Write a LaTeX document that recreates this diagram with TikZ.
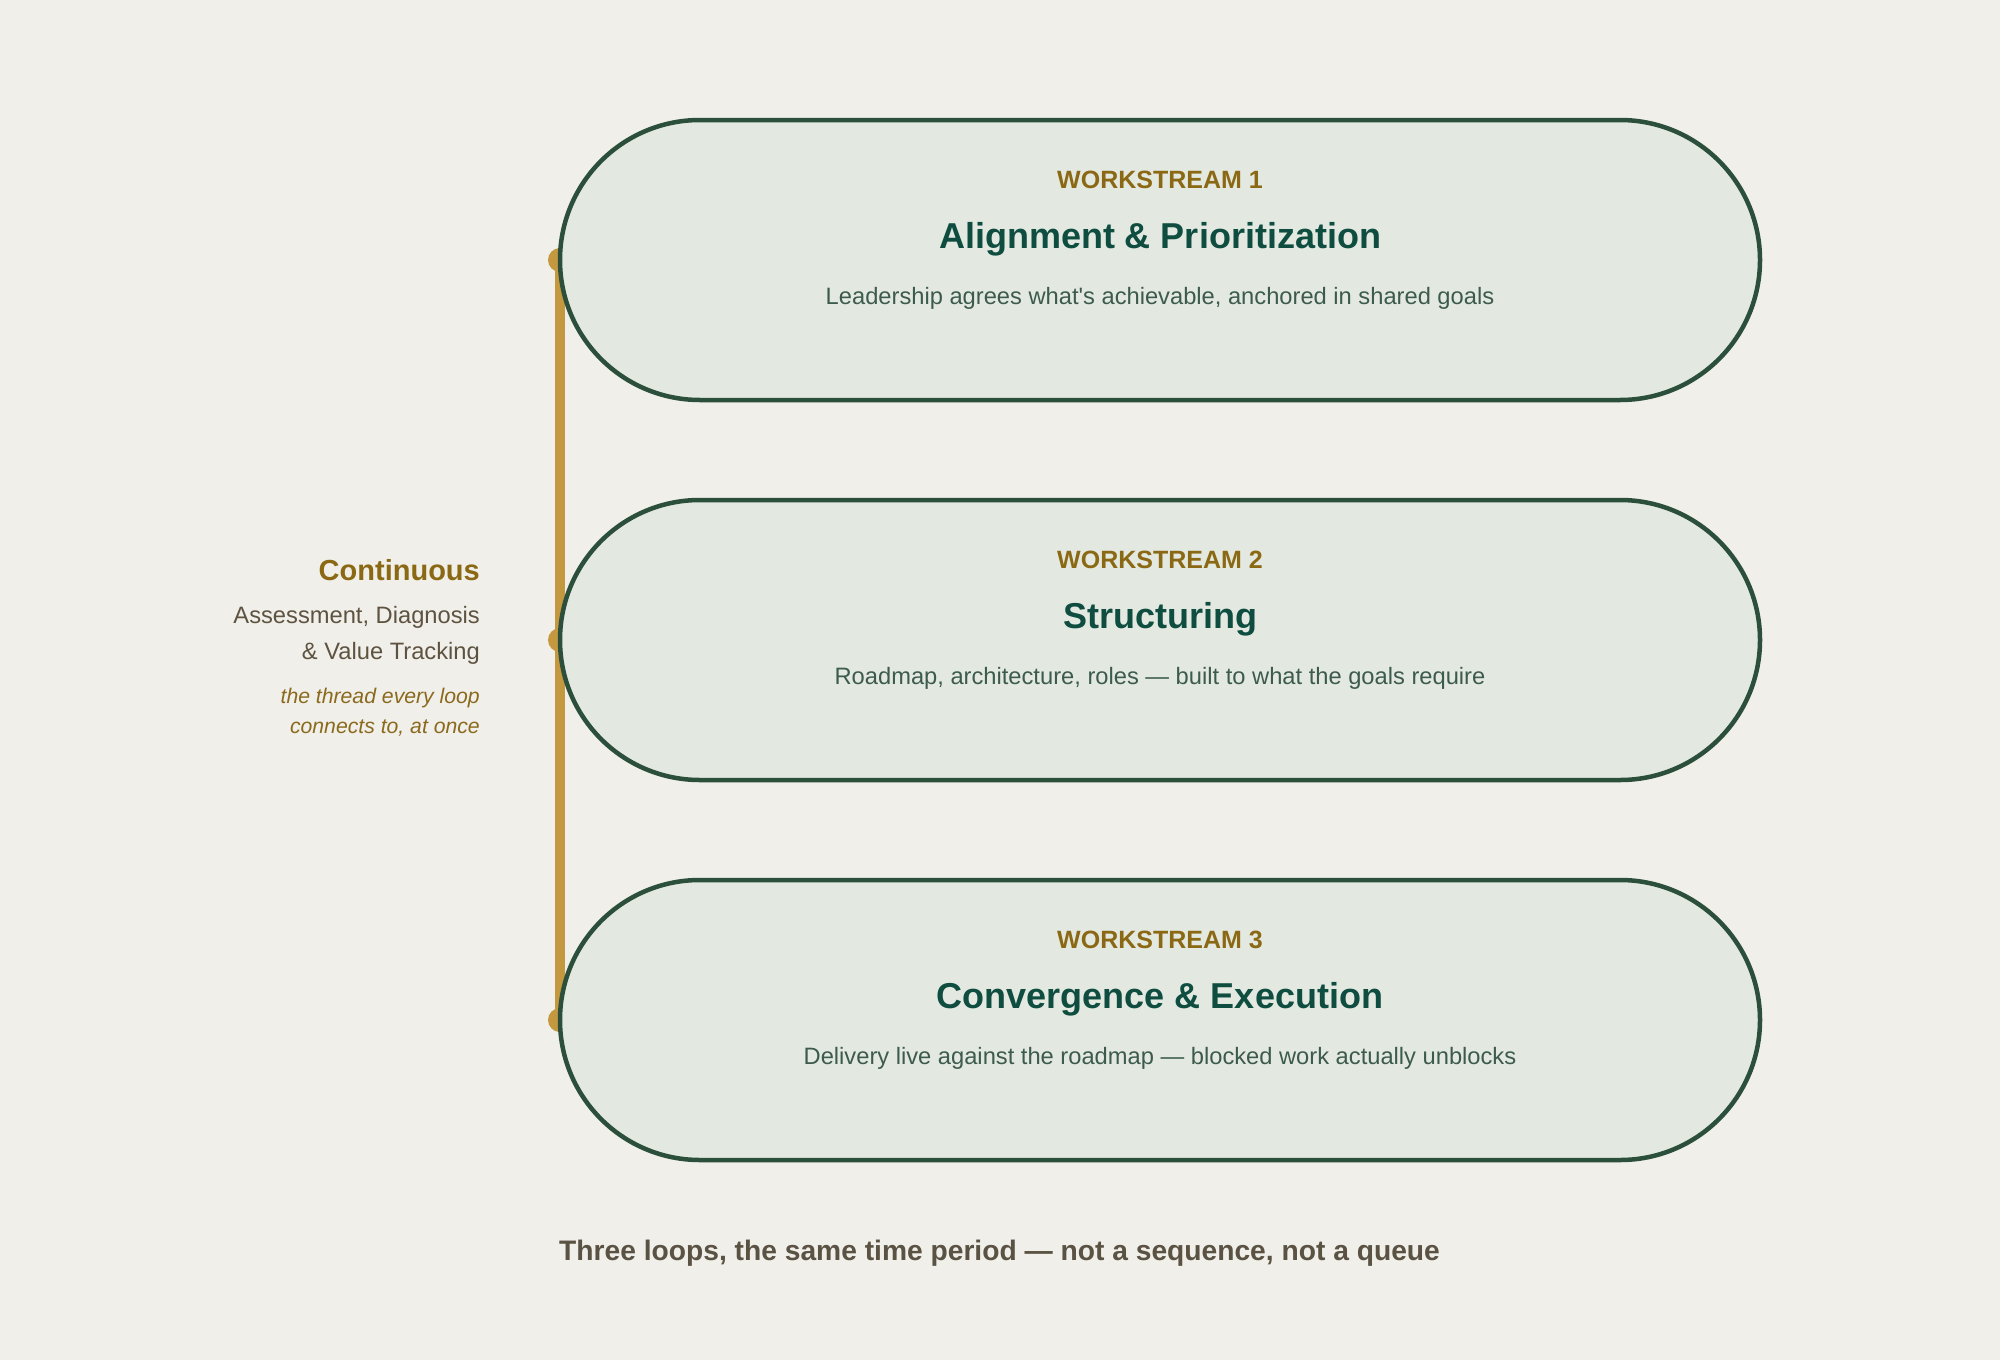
\documentclass[tikz,border=0pt]{standalone}
\usepackage{fontspec}
\setmainfont{Liberation Sans}[Ligatures=TeXOff]
\usetikzlibrary{shapes.misc}
\definecolor{bgc}{HTML}{F0EFEA}
\definecolor{boxfill}{HTML}{E3E9E1}
\definecolor{boxline}{HTML}{2B4F3B}
\definecolor{goldline}{HTML}{C4983F}
\definecolor{wscol}{HTML}{8B6914}
\definecolor{titlecol}{HTML}{0E4D3F}
\definecolor{desccol}{HTML}{3D5B4C}
\definecolor{leftcol}{HTML}{5E5340}
\definecolor{italcol}{HTML}{8B6A1E}
\definecolor{capcol}{HTML}{5A5242}
\tikzset{
  loopbox/.style={rounded rectangle, draw=boxline, fill=boxfill, line width=4.5pt,
    minimum width=1200pt, minimum height=280pt, inner sep=0pt},
  wslabel/.style={anchor=base, text=wscol, font=\fontsize{25}{30}\selectfont\bfseries, inner sep=0pt},
  wstitle/.style={anchor=base, text=titlecol, font=\fontsize{36}{42}\selectfont\bfseries, inner sep=0pt},
  wsdesc/.style={anchor=base, text=desccol, font=\fontsize{23.7}{28}\selectfont, inner sep=0pt},
  leftlabel/.style={anchor=base east, inner sep=0pt},
  thread/.style={draw=goldline, line width=10pt},
  threaddot/.style={circle, fill=goldline, minimum size=24pt, inner sep=0pt},
}
\begin{document}
\begin{tikzpicture}[x=1pt,y=-1pt]
\fill[bgc] (0,0) rectangle (2000,1360);
\useasboundingbox (0,0) rectangle (2000,1360);
% thread
\node[threaddot] (d1) at (560,260) {};
\node[threaddot] (d2) at (560,640) {};
\node[threaddot] (d3) at (560,1020) {};
\draw[thread] (d1.center) -- (d3.center);
% boxes
\node[loopbox] (b1) at (1160,260) {};
\node[loopbox] (b2) at (1160,640) {};
\node[loopbox] (b3) at (1160,1020) {};
% box 1
\node[wslabel] (w1) at (1160,188) {WORKSTREAM 1};
\node[wstitle] (t1) at (1160,248) {Alignment \& Prioritization};
\node[wsdesc] (s1) at (1160,304) {Leadership agrees what's achievable, anchored in shared goals};
% box 2
\node[wslabel] (w2) at (1160,568) {WORKSTREAM 2};
\node[wstitle] (t2) at (1160,628) {Structuring};
\node[wsdesc] (s2) at (1160,684) {Roadmap, architecture, roles — built to what the goals require};
% box 3
\node[wslabel] (w3) at (1160,948) {WORKSTREAM 3};
\node[wstitle] (t3) at (1160,1008) {Convergence \& Execution};
\node[wsdesc] (s3) at (1160,1064) {Delivery live against the roadmap — blocked work actually unblocks};
% left labels
\node[leftlabel, text=wscol, font=\fontsize{29}{34}\selectfont\bfseries] (c0) at (480,580) {Continuous};
\node[leftlabel, text=leftcol, font=\fontsize{23.7}{28}\selectfont] (c1) at (480,623) {Assessment, Diagnosis};
\node[leftlabel, text=leftcol, font=\fontsize{23.7}{28}\selectfont] (c2) at (480,659) {\& Value Tracking};
\node[leftlabel, text=italcol, font=\fontsize{21.2}{26}\selectfont\itshape] (c3) at (480,703) {the thread every loop};
\node[leftlabel, text=italcol, font=\fontsize{21.2}{26}\selectfont\itshape] (c4) at (480,733) {connects to, at once};
% caption
\node[anchor=base west, inner sep=0pt, text=capcol, font=\fontsize{28.2}{33}\selectfont\bfseries] (cap) at (559,1260) {Three loops, the same time period — not a sequence, not a queue};
\end{tikzpicture}
\end{document}
